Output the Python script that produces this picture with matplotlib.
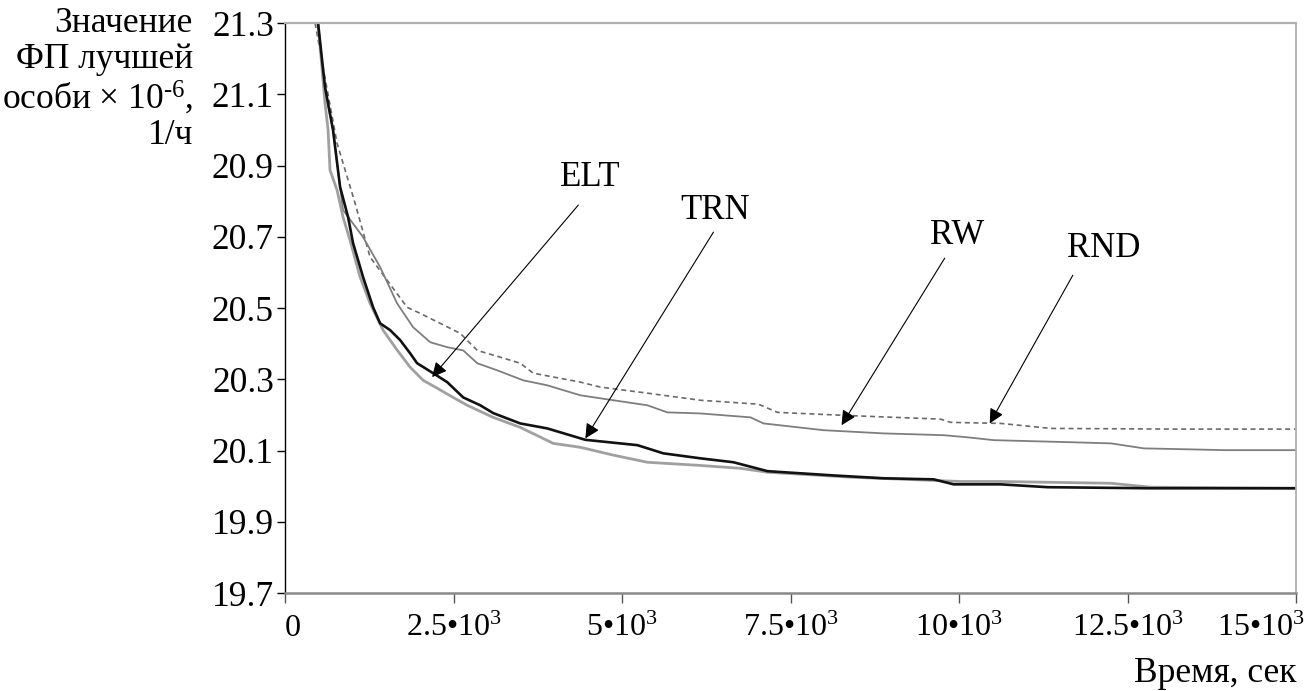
import numpy as np
import matplotlib
matplotlib.use('Agg')
import matplotlib.pyplot as plt
from matplotlib.transforms import ScaledTranslation

plt.rcParams['font.family'] = ['Liberation Serif', 'DejaVu Serif']
plt.rcParams['mathtext.fontset'] = 'custom'
plt.rcParams['mathtext.rm'] = 'Liberation Serif'
plt.rcParams['mathtext.it'] = 'Liberation Serif:italic'

# --- данные: время (сек) и значение ФП лучшей особи (x 10^-6) ---
elt_t = [490, 594, 713, 817, 936, 1010, 1158, 1307, 1411, 1559, 1708, 1856, 1960, 2198, 2406,
         2644, 2896, 3089, 3490, 3891, 4456, 5228, 5614, 6164, 6654, 7159, 8139, 8882, 9624,
         9921, 10619, 11317, 12803, 15000]
elt_v = [21.30, 21.12, 20.999, 20.84, 20.755, 20.682, 20.587, 20.502, 20.457, 20.438, 20.41,
         20.373, 20.345, 20.317, 20.292, 20.249, 20.227, 20.205, 20.176, 20.162, 20.13, 20.115,
         20.092, 20.078, 20.067, 20.042, 20.03, 20.022, 20.019, 20.005, 20.005, 19.997, 19.994,
         19.994]

trn_t = [490, 594, 639, 668, 772, 861, 965, 1114, 1262, 1455, 1663, 1856, 2050, 2257, 2495,
         2703, 3089, 3490, 3980, 4381, 4872, 5376, 6164, 6758, 7159, 8392, 9624, 10025, 10619,
         12253, 12847, 15000]
trn_v = [21.30, 21.075, 21.0, 20.887, 20.831, 20.755, 20.69, 20.587, 20.513, 20.438, 20.382,
         20.334, 20.297, 20.275, 20.249, 20.227, 20.193, 20.165, 20.12, 20.109, 20.087, 20.067,
         20.058, 20.05, 20.039, 20.025, 20.016, 20.013, 20.013, 20.008, 19.997, 19.994]

rw_t = [490, 594, 713, 817, 861, 1158, 1411, 1663, 1901, 2154, 2406, 2644, 2852, 3149, 3535,
        3891, 4381, 4872, 5376, 5673, 6164, 6907, 7099, 7991, 8882, 9773, 10129, 10515, 11703,
        12253, 12743, 13946, 15000]
rw_v = [21.30, 21.11, 21.0, 20.84, 20.775, 20.699, 20.615, 20.513, 20.446, 20.404, 20.39,
        20.381, 20.345, 20.325, 20.297, 20.283, 20.255, 20.241, 20.227, 20.207, 20.204, 20.193,
        20.176, 20.157, 20.148, 20.143, 20.137, 20.129, 20.123, 20.12, 20.106, 20.101, 20.101]

rnd_t = [446, 564, 772, 1040, 1262, 1515, 1812, 2005, 2302, 2599, 2852, 3193, 3490, 3683, 4381,
         4678, 5376, 6164, 7025, 7307, 8243, 9728, 9877, 10619, 11362, 13248, 15000]
rnd_v = [21.30, 21.176, 20.963, 20.794, 20.643, 20.578, 20.502, 20.485, 20.457, 20.429, 20.381,
         20.362, 20.345, 20.317, 20.292, 20.278, 20.261, 20.241, 20.23, 20.207, 20.199, 20.188,
         20.179, 20.176, 20.162, 20.16, 20.16]

x_ticks = [0, 2500, 5000, 7500, 10000, 12500, 15000]
x_ticklabels = ['0', '2.5•10$^{\\mathregular{3}}$', '5•10$^{\\mathregular{3}}$',
                '7.5•10$^{\\mathregular{3}}$', '10•10$^{\\mathregular{3}}$',
                '12.5•10$^{\\mathregular{3}}$', '15•10$^{\\mathregular{3}}$']
y_ticks = [19.7, 19.9, 20.1, 20.3, 20.5, 20.7, 20.9, 21.1, 21.3]

# подписи кривых: текст, позиция текста, начало и конец стрелки
labels = ['ELT', 'TRN', 'RW', 'RND']
label_pos = [(4530, 20.865), (6386, 20.775), (9966, 20.704), (12149, 20.668)]
arrow_tail = [(4352, 20.789), (6357, 20.713), (9788, 20.640), (11689, 20.592)]
arrow_tip = [(2183, 20.306), (4456, 20.134), (8258, 20.171), (10456, 20.176)]

fig = plt.figure(figsize=(13.16, 6.91), dpi=100)
ax = fig.add_axes([285 / 1316, 1 - 593 / 691, (1296 - 285) / 1316, (593 - 23) / 691])

ax.plot(rnd_t, rnd_v, color='#6a6a6a', lw=1.2, dashes=(3, 2.2))
ax.plot(rw_t, rw_v, color='#7e7e7e', lw=1.3)
ax.plot(trn_t, trn_v, color='#a0a0a0', lw=2.0)
ax.plot(elt_t, elt_v, color='#111111', lw=1.9)

for txt, tp, tail, tip in zip(labels, label_pos, arrow_tail, arrow_tip):
    ax.annotate('', xy=tip, xytext=tail,
                arrowprops=dict(arrowstyle='-|>', color='black', lw=0.8,
                                mutation_scale=22, shrinkA=0, shrinkB=0))
    ax.text(tp[0], tp[1], txt, fontsize=25, ha='center', va='center')

ax.set_xlim(0, 15000)
ax.set_ylim(19.7, 21.3)
ax.set_xticks(x_ticks)
ax.set_xticklabels(x_ticklabels)
ax.set_yticks(y_ticks)
ax.set_yticklabels([f'{v:.1f}' for v in y_ticks])

ax.tick_params(axis='y', labelsize=25.5, length=6, width=1, pad=2, direction='out')
ax.tick_params(axis='x', labelsize=23, length=7, width=1, pad=8, direction='out',
               color='#555555')

ax.spines['left'].set_color('black')
ax.spines['left'].set_linewidth(1.0)
ax.spines['bottom'].set_color('#8a8a8a')
ax.spines['bottom'].set_linewidth(1.8)
ax.spines['top'].set_color('#b0b0b0')
ax.spines['top'].set_linewidth(1.6)
ax.spines['right'].set_color('#b0b0b0')
ax.spines['right'].set_linewidth(1.3)

# крайние подписи оси X сдвинуты внутрь
xl = ax.get_xticklabels()
xl[0].set_transform(xl[0].get_transform() + ScaledTranslation(8 / 100, 0, fig.dpi_scale_trans))
xl[-1].set_transform(xl[-1].get_transform() + ScaledTranslation(-35 / 100, 0, fig.dpi_scale_trans))

fig.text(193 / 1316, 1 - 7 / 691,
         'Значение\nФП лучшей\nособи × 10$^{\\text{-6}}$,\n1/ч',
         fontsize=25.5, ha='right', va='top', multialignment='right', linespacing=1.1)
fig.text(1297 / 1316, 1 - 674 / 691, 'Время, сек', fontsize=25.5, ha='right', va='center')

fig.savefig('out.png', dpi=100)
